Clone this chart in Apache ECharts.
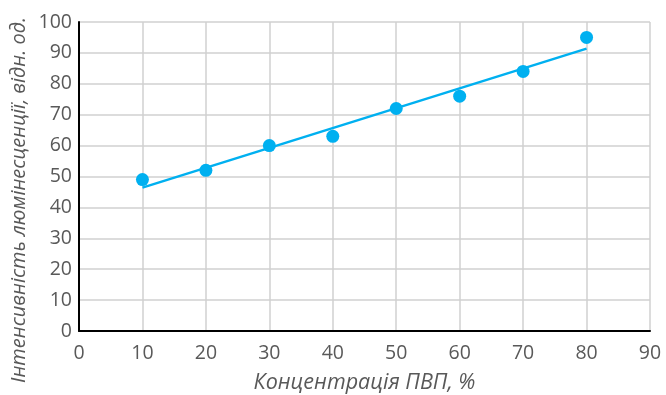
<!DOCTYPE html>
<html>
<head>
<meta charset="utf-8">
<script src="https://cdn.jsdelivr.net/npm/echarts@6/dist/echarts.min.js"></script>
<style>
  html, body { margin: 0; padding: 0; background: #fff; }
  #chart { width: 666px; height: 395px; }
</style>
</head>
<body>
<div id="chart"></div>
<script>
// Concentration of PVP, % (x) and luminescence intensity, rel. units (y)
const concentration = [10, 20, 30, 40, 50, 60, 70, 80];
const intensity = [49, 52, 60, 63, 72, 76, 84, 95];
// Linear trend line endpoints
const trendX = [10, 80];
const trendY = [46.4, 91.4];

const xTitle = 'Концентрація ПВП, %';
const yTitle = 'Інтенсивність люмінесценції, відн. од.';

const blue = '#00B0F0';
const textColor = '#595959';
const font = '"Open Sans", "Noto Sans", sans-serif';

const chart = echarts.init(document.getElementById('chart'));
chart.setOption({
  animation: false,
  backgroundColor: '#fff',
  grid: { left: 79, right: 16, top: 22, bottom: 64, containLabel: false, outerBoundsMode: 'none' },
  // Vertical axis title, centred on the whole chart height
  graphic: [{
    type: 'text',
    x: 19, y: 200,
    rotation: Math.PI / 2,
    style: {
      text: yTitle,
      fill: textColor,
      font: 'italic 20px ' + font,
      align: 'center',
      verticalAlign: 'middle'
    }
  }],
  xAxis: {
    type: 'value', min: 0, max: 90, interval: 10,
    name: xTitle, nameLocation: 'middle', nameGap: 41,
    nameTextStyle: { color: textColor, fontSize: 21.5, fontStyle: 'italic', fontFamily: font },
    axisLine: { show: true, onZero: false, lineStyle: { color: '#000', width: 2 } },
    axisTick: { show: false },
    axisLabel: { color: textColor, fontSize: 19.5, fontFamily: font, margin: 12 },
    splitLine: { show: true, lineStyle: { color: '#d0d0d0', width: 1.5 } }
  },
  yAxis: {
    type: 'value', min: 0, max: 100, interval: 10,
    axisLine: { show: true, onZero: false, lineStyle: { color: '#000', width: 2 } },
    axisTick: { show: false },
    axisLabel: { color: textColor, fontSize: 19.5, fontFamily: font, margin: 7 },
    splitLine: { show: true, lineStyle: { color: '#d0d0d0', width: 1.5 } }
  },
  series: [
    {
      type: 'line',
      data: trendX.map((x, i) => [x, trendY[i]]),
      showSymbol: false,
      lineStyle: { color: blue, width: 2.5 },
      z: 2
    },
    {
      type: 'scatter',
      data: concentration.map((x, i) => [x, intensity[i]]),
      symbol: 'circle',
      symbolSize: 13,
      itemStyle: { color: blue, opacity: 1 },
      z: 3
    }
  ]
});
</script>
</body>
</html>
